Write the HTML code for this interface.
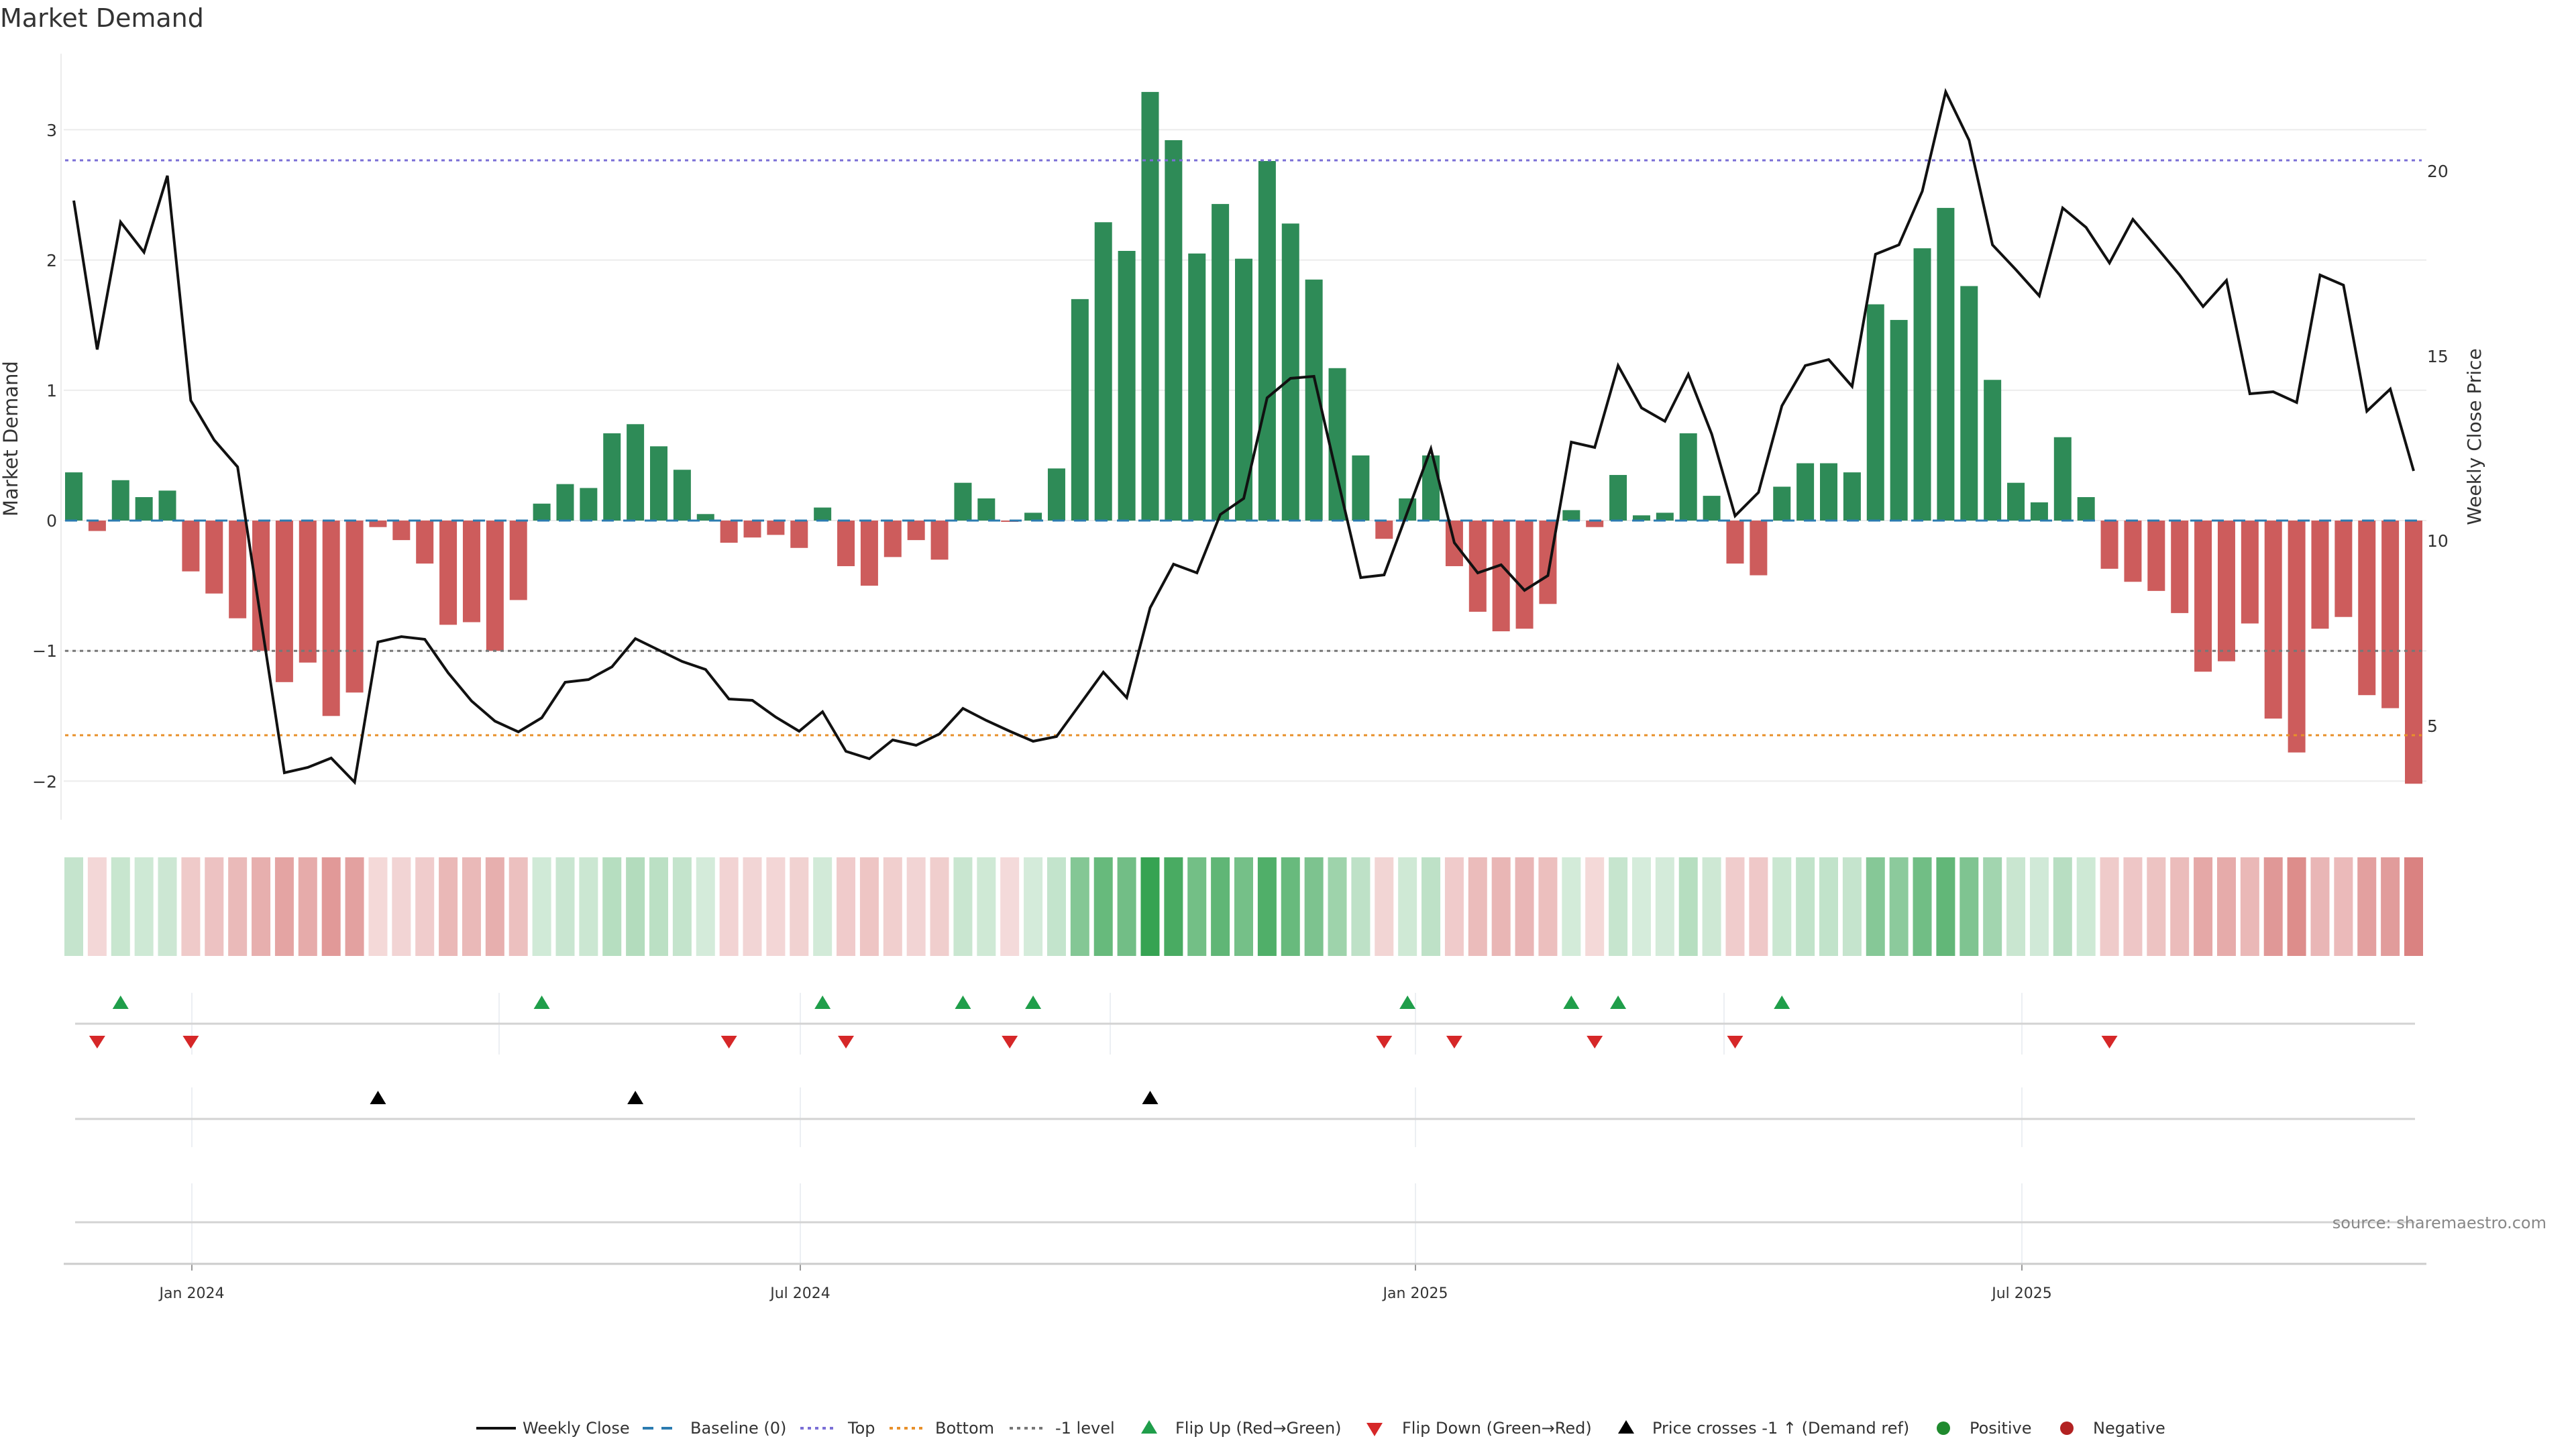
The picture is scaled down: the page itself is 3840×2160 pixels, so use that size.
<!DOCTYPE html>
<html><head><meta charset="utf-8">
<style>
html,body{margin:0;padding:0;background:#fff;}
svg{display:block;font-family:"DejaVu Sans","Liberation Sans",sans-serif;}
</style></head>
<body>
<svg id="c" width="3840" height="2160" viewBox="0 0 3840 2160" xmlns="http://www.w3.org/2000/svg">
<rect width="3840" height="2160" fill="#fff"/>
<text x="0" y="40" font-size="38" fill="#333">Market Demand</text>
<g id="grid"></g>
<g id="bars"></g>
<g id="lines"></g>
<g id="heat"></g>
<g id="rows"></g>
<g font-size="25" fill="#333" text-anchor="end">
<text x="85" y="203">3</text>
<text x="85" y="397">2</text>
<text x="85" y="591">1</text>
<text x="85" y="785">0</text>
<text x="85" y="979">−1</text>
<text x="85" y="1174">−2</text>
</g>
<g font-size="25" fill="#333">
<text x="3618" y="264">20</text>
<text x="3618" y="540">15</text>
<text x="3618" y="815">10</text>
<text x="3618" y="1091">5</text>
</g>
<text transform="translate(26,654) rotate(-90)" font-size="29" fill="#333" text-anchor="middle">Market Demand</text>
<text transform="translate(3698,651) rotate(-90)" font-size="28" fill="#333" text-anchor="middle">Weekly Close Price</text>
<line x1="95" y1="1884" x2="3617" y2="1884" stroke="#ccc" stroke-width="3"/>
<g font-size="22" fill="#333" text-anchor="middle">
<text x="286" y="1935">Jan 2024</text>
<text x="1193" y="1935">Jul 2024</text>
<text x="2110" y="1935">Jan 2025</text>
<text x="3014" y="1935">Jul 2025</text>
</g>
<text x="3796" y="1831" font-size="24" fill="#888" text-anchor="end">source: sharemaestro.com</text>
<g font-size="24" fill="#333">
<line x1="710" y1="2129" x2="769" y2="2129" stroke="#111" stroke-width="4"/>
<text x="779" y="2137">Weekly Close</text>
<line x1="958" y1="2129" x2="1012" y2="2129" stroke="#2b7bb0" stroke-width="4" stroke-dasharray="16,12"/>
<text x="1029" y="2137">Baseline (0)</text>
<line x1="1193" y1="2129" x2="1247" y2="2129" stroke="#7a6fd6" stroke-width="4" stroke-dasharray="5,6"/>
<text x="1264" y="2137">Top</text>
<line x1="1326" y1="2129" x2="1380" y2="2129" stroke="#e8902a" stroke-width="4" stroke-dasharray="5,6"/>
<text x="1394" y="2137">Bottom</text>
<line x1="1505" y1="2129" x2="1559" y2="2129" stroke="#777" stroke-width="4" stroke-dasharray="5,6"/>
<text x="1573" y="2137">-1 level</text>
<polygon points="1713,2117 1725,2137 1701,2137" fill="#1f9e4a"/>
<text x="1752" y="2137">Flip Up (Red→Green)</text>
<polygon points="2037,2121 2061,2121 2049,2141" fill="#d62728"/>
<text x="2090" y="2137">Flip Down (Green→Red)</text>
<polygon points="2424,2117 2436,2137 2412,2137" fill="#000"/>
<text x="2463" y="2137">Price crosses -1 ↑ (Demand ref)</text>
<circle cx="2897" cy="2129" r="10" fill="#1f8a2e"/>
<text x="2936" y="2137">Positive</text>
<circle cx="3081" cy="2129" r="10" fill="#b22222"/>
<text x="3120" y="2137">Negative</text>
</g>
</svg>
<script>
var NS="http://www.w3.org/2000/svg";
function el(p,t,a){var e=document.createElementNS(NS,t);for(var k in a)e.setAttribute(k,a[k]);p.appendChild(e);return e;}
var v=[.37,-.08,.31,.18,.23,-.39,-.56,-.75,-1.0,-1.24,-1.09,-1.5,-1.32,-.05,-.15,-.33,-.80,-.78,-1.0,-.61,.13,.28,.25,.67,.74,.57,.39,.05,-.17,-.13,-.11,-.21,.10,-.35,-.50,-.28,-.15,-.30,.29,.17,-.01,.06,.40,1.70,2.29,2.07,3.29,2.92,2.05,2.43,2.01,2.76,2.28,1.85,1.17,.50,-.14,.17,.50,-.35,-.70,-.85,-.83,-.64,.08,-.05,.35,.04,.06,.67,.19,-.33,-.42,.26,.44,.44,.37,1.66,1.54,2.09,2.40,1.80,1.08,.29,.14,.64,.18,-.37,-.47,-.54,-.71,-1.16,-1.08,-.79,-1.52,-1.78,-.83,-.74,-1.34,-1.44,-2.02];
var py=[299,521,331,376,262,597,656,696,924,1152,1144,1130,1166,957,949,953,1003,1045,1075,1091,1070,1017,1013,994,952,969,986,998,1042,1044,1069,1090,1061,1120,1131,1103,1111,1094,1056,1074,1090,1105,1098,1050,1002,1040,906,841,854,767,743,593,564,561,712,861,857,763,669,809,854,842,880,858,659,667,545,608,628,558,647,769,734,605,545,536,576,379,365,285,137,209,365,402,441,310,339,392,327,368,410,457,418,587,584,600,410,425,613,580,702];
var X0=110,P=34.88,Z=776,U=194.2,W=26;
function x(i){return X0+P*i;}
var g=document.getElementById('grid');
[3,2,1,0,-1,-2].forEach(function(t){el(g,'line',{x1:95,x2:3617,y1:Z-t*U,y2:Z-t*U,stroke:'#ececec','stroke-width':2});});
el(g,'line',{x1:91,x2:91,y1:80,y2:1222,stroke:'#ececec','stroke-width':2});
var b=document.getElementById('bars');
v.forEach(function(d,i){var h=Math.abs(d)*U;el(b,'rect',{x:x(i)-W/2,y:d>=0?Z-h:Z,width:W,height:Math.max(h,1),fill:d>=0?'#2e8b57':'#cd5c5c'});});
var L=document.getElementById('lines');
el(L,'line',{x1:97,x2:3610,y1:Z,y2:Z,stroke:'#2b7bb0','stroke-width':3,'stroke-dasharray':'18,14'});
el(L,'line',{x1:97,x2:3610,y1:239,y2:239,stroke:'#7a6fd6','stroke-width':3,'stroke-dasharray':'5,6'});
el(L,'line',{x1:97,x2:3610,y1:Z+U,y2:Z+U,stroke:'#777','stroke-width':3,'stroke-dasharray':'5,6'});
el(L,'line',{x1:97,x2:3610,y1:1096,y2:1096,stroke:'#e8902a','stroke-width':3,'stroke-dasharray':'5,6'});
el(L,'polyline',{points:py.map(function(y,i){return x(i)+','+y;}).join(' '),fill:'none',stroke:'#111','stroke-width':4,'stroke-linejoin':'miter'});
var H=document.getElementById('heat');
function mix(c,t){return 'rgb('+c.map(function(k){return Math.round(255-t*(255-k));}).join(',')+')';}
v.forEach(function(d,i){var t=0.2+0.8*Math.min(Math.abs(d),3.3)/3.3;el(H,'rect',{x:x(i)-14,y:1278,width:28,height:147,fill:d>=0?mix([54,163,82],t):mix([201,74,72],t)});});
var R=document.getElementById('rows');
[286,1193,2110,3014].forEach(function(xx){
 el(R,'line',{x1:xx,x2:xx,y1:1480,y2:1572,stroke:'#eceff3','stroke-width':2});
 el(R,'line',{x1:xx,x2:xx,y1:1621,y2:1710,stroke:'#eceff3','stroke-width':2});
 el(R,'line',{x1:xx,x2:xx,y1:1764,y2:1892,stroke:'#eceff3','stroke-width':2});
});
[744,1655,2570].forEach(function(xx){el(R,'line',{x1:xx,x2:xx,y1:1480,y2:1572,stroke:'#eceff3','stroke-width':2});});
[1526,1668,1822].forEach(function(y){el(R,'line',{x1:112,x2:3600,y1:y,y2:y,stroke:'#d3d3d3','stroke-width':3});});
[2,20,32,38,41,57,64,66,73].forEach(function(i){var c=x(i);el(R,'polygon',{points:(c)+',1484 '+(c+12)+',1504 '+(c-12)+',1504',fill:'#1f9e4a'});});
[1,5,28,33,40,56,59,65,71,87].forEach(function(i){var c=x(i);el(R,'polygon',{points:(c-12)+',1544 '+(c+12)+',1544 '+c+',1563',fill:'#d62728'});});
[13,24,46].forEach(function(i){var c=x(i);el(R,'polygon',{points:(c)+',1626 '+(c+12)+',1646 '+(c-12)+',1646',fill:'#000'});});
[286,1193,2110,3014].forEach(function(xx){el(R,'line',{x1:xx,x2:xx,y1:1884,y2:1894,stroke:'#999','stroke-width':2});});
</script>
</body></html>
